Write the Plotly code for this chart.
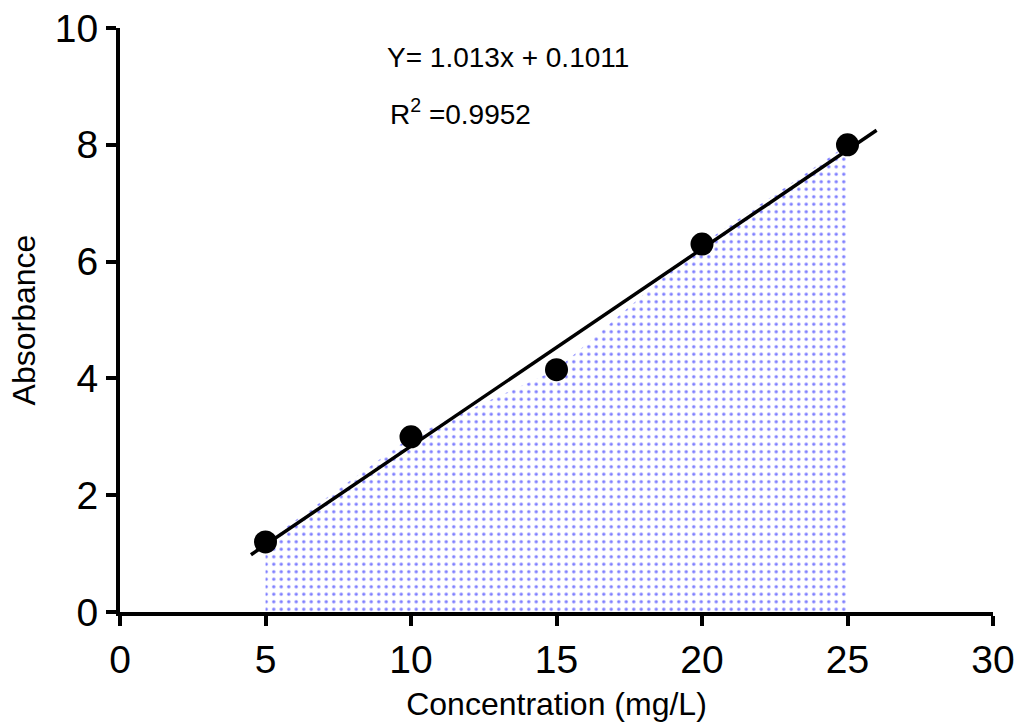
import numpy as np
import plotly.graph_objects as go

concentration = [5, 10, 15, 20, 25]
absorbance = [1.2, 3.0, 4.15, 6.3, 8.0]
x_ticks = [0, 5, 10, 15, 20, 25, 30]
y_ticks = [0, 2, 4, 6, 8, 10]
fit_range = [4.5, 26.0]
equation_text = "Y= 1.013x + 0.1011"
r2_text = "R<sup>2</sup> =0.9952"

slope, intercept = np.polyfit(concentration, absorbance, 1)
fit_x = np.array(fit_range)
fit_y = slope * fit_x + intercept

FONT = "Liberation Sans, Arial, sans-serif"
TOP, BOTTOM, LEFT, RIGHT = 28, 115, 120, 31
PH = 727 - TOP - BOTTOM
PW = 1024 - LEFT - RIGHT

fig = go.Figure()
fig.add_trace(go.Scatter(
    x=concentration, y=absorbance, mode="none", fill="tozeroy",
    fillcolor="rgba(0,0,0,0)",
    fillpattern=dict(shape=".", fgcolor="#0000ff", bgcolor="rgba(255,255,255,0)",
                     size=7.5, solidity=0.16),
    hoverinfo="skip", showlegend=False))
fig.add_trace(go.Scatter(
    x=fit_x, y=fit_y, mode="lines", line=dict(color="black", width=3.5),
    showlegend=False))
fig.add_trace(go.Scatter(
    x=concentration, y=absorbance, mode="markers",
    marker=dict(color="black", size=23), showlegend=False, cliponaxis=False))

axis_common = dict(
    showline=True, linecolor="black", linewidth=4, mirror=False,
    ticks="outside", ticklen=10, tickwidth=4, tickcolor="black",
    showgrid=False, zeroline=False, automargin=False,
    tickfont=dict(family=FONT, size=39, color="black"),
)
fig.update_xaxes(range=[0, 30], tickvals=x_ticks, ticktext=[str(v) for v in x_ticks],
                 title=dict(text="Concentration (mg/L)", font=dict(family=FONT, size=32, color="black"),
                            standoff=14),
                 **axis_common)
fig.update_yaxes(range=[0, 10], tickvals=y_ticks, ticktext=[str(v) for v in y_ticks],
                 title=dict(text="Absorbance", font=dict(family=FONT, size=32, color="black"),
                            standoff=11),
                 **axis_common)

fig.add_annotation(x=(508 - LEFT) / PW, y=1.0 - (58 - TOP) / PH, xref="paper", yref="paper",
                   xanchor="center", yanchor="middle",
                   text=equation_text, showarrow=False,
                   font=dict(family=FONT, size=28, color="black"))
fig.add_annotation(x=(388 - LEFT) / PW, y=1.0 - (112 - TOP) / PH, xref="paper", yref="paper",
                   xanchor="left", yanchor="middle", text=r2_text, showarrow=False,
                   font=dict(family=FONT, size=28, color="black"))

fig.update_layout(
    width=1024, height=727,
    margin=dict(l=LEFT, r=RIGHT, t=TOP, b=BOTTOM),
    plot_bgcolor="white", paper_bgcolor="white",
)

fig.write_html("out.html")
